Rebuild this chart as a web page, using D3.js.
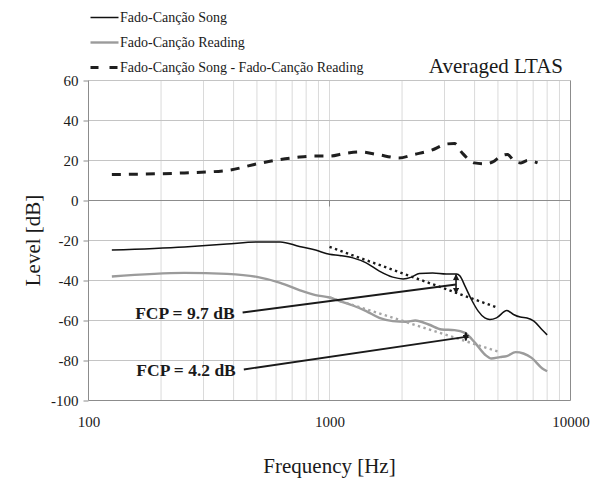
<!DOCTYPE html>
<html>
<head>
<meta charset="utf-8">
<script src="https://cdn.jsdelivr.net/npm/d3@7"></script>
<style>
    body { margin: 0; background: #fff; }
    #chart-area { width: 591px; height: 482px; }
    text { font-family: "Liberation Serif", "Times New Roman", serif; fill: #1a1a1a; }
</style>
</head>
<body>
<div id="chart-area"></div>
<script>
// averaged LTAS chart: song vs reading, plus difference curve

// series values (Hz / dB)
const songFreq = [125, 250, 375, 500, 625, 750, 875, 1000, 1100, 1250, 1420, 1610, 1830, 2020, 2190, 2360, 2680, 3050, 3370, 3480, 3650, 3880, 4140, 4410, 4630, 4930, 5440, 5800, 6190, 6600, 7050, 7640, 8000];
const songDb   = [-24.8, -23.2, -21.8, -20.7, -20.7, -23, -24.8, -26.9, -27.5, -28.7, -31.2, -35.3, -38.3, -39.2, -38.3, -36.5, -36.2, -36.7, -36.7, -37.8, -42.8, -49.5, -55.3, -58.7, -59.5, -58.7, -55, -57, -58.3, -58.7, -60.3, -64.8, -67.2];

const readFreq = [125, 250, 375, 500, 625, 750, 875, 1000, 1100, 1250, 1420, 1610, 1830, 2080, 2270, 2580, 2920, 3300, 3650, 4020, 4410, 4700, 5100, 5440, 5920, 6380, 6900, 7640, 8000];
const readDb   = [-38, -36.2, -36.7, -38.2, -41.2, -44.8, -47.3, -48.5, -50.3, -52.5, -55.3, -58.7, -60.3, -60.7, -60, -62, -64.5, -64.8, -66.2, -71.2, -77, -79, -78.3, -77.8, -75.8, -76.5, -78.7, -84, -85.4];

const diffFreq = [125, 250, 375, 500, 625, 750, 875, 1000, 1150, 1330, 1580, 1940, 2240, 2630, 3080, 3300, 3540, 3990, 4400, 4760, 5140, 5480, 5840, 6230, 6650, 7300];
const diffDb   = [13, 13.8, 15, 18.3, 20.5, 21.7, 22.2, 22.2, 23.5, 24.3, 23, 21.3, 23, 25, 28.3, 28.5, 24, 18.8, 18.3, 19.3, 22.2, 23, 19.7, 18.8, 20, 18.8];

// dotted trend lines (start / end)
const trendFreq = [1000, 5000];
const songTrendDb = [-23.2, -53.7];
const readTrendDb = [-48.5, -75.5];

// FCP annotations
const fcpLabels = ["FCP = 9.7 dB", "FCP = 4.2 dB"];
const fcpStartFreq = [436, 441];
const fcpStartDb = [-56, -84.5];
const fcpFreq = [3350, 3680];
const fcpTopDb = [-37, -66];
const fcpBottomDb = [-46.5, -70];
const fcpPointDb = [-42, -68.2];

// axes
const yTicks = [-100, -80, -60, -40, -20, 0, 20, 40, 60];
const xTicks = [100, 1000, 10000];
const xGrid = [200, 300, 400, 500, 600, 700, 800, 900, 1000, 2000, 3000, 4000, 5000, 6000, 7000, 8000, 9000];

const legendLabels = ["Fado-Canção Song", "Fado-Canção Reading", "Fado-Canção Song - Fado-Canção Reading"];

class LtasChart {
    constructor(parentElement) {
        this.parentElement = parentElement;
        this.initVis();
    }
    initVis() {
        let vis = this;

        vis.margin = {top: 80.5, right: 20.5, bottom: 81.5, left: 88.5};
        vis.width = 591 - vis.margin.left - vis.margin.right;
        vis.height = 482 - vis.margin.top - vis.margin.bottom;

        vis.root = d3.select("#" + vis.parentElement).append("svg")
            .attr("width", 591)
            .attr("height", 482);

        let defs = vis.root.append("defs");
        defs.append("marker")
            .attr("id", "head")
            .attr("viewBox", "0 0 10 10")
            .attr("refX", 9).attr("refY", 5)
            .attr("markerWidth", 4).attr("markerHeight", 4)
            .attr("markerUnits", "strokeWidth")
            .attr("orient", "auto-start-reverse")
            .append("path")
            .attr("d", "M0,0 L10,5 L0,10 Z")
            .attr("fill", "#1a1a1a");

        vis.svg = vis.root.append("g")
            .attr("transform", "translate(" + vis.margin.left + "," + vis.margin.top + ")");

        vis.x = d3.scaleLog().domain([100, 10000]).range([0, vis.width]);
        vis.y = d3.scaleLinear().domain([-100, 60]).range([vis.height, 0]);

        vis.updateVis();
    }
    updateVis() {
        let vis = this;

        // gridlines
        vis.svg.append("g").selectAll("line")
            .data(xGrid).enter().append("line")
            .attr("x1", d => vis.x(d)).attr("x2", d => vis.x(d))
            .attr("y1", 0).attr("y2", vis.height)
            .attr("stroke", "#dadada").attr("stroke-width", 1);

        vis.svg.append("g").selectAll("line")
            .data(yTicks.filter(d => d > -100)).enter().append("line")
            .attr("x1", 0).attr("x2", vis.width)
            .attr("y1", d => vis.y(d)).attr("y2", d => vis.y(d))
            .attr("stroke", d => d === 0 ? "#8c8c8c" : "#c4c4c4")
            .attr("stroke-width", 1);

        // tick at 1000 on the zero line
        vis.svg.append("line")
            .attr("x1", vis.x(1000)).attr("x2", vis.x(1000))
            .attr("y1", vis.y(0)).attr("y2", vis.y(0) + 6)
            .attr("stroke", "#8c8c8c");

        // frame: left, bottom, right
        vis.svg.append("path")
            .attr("d", "M0,0 V" + vis.height + " H" + vis.width + " V0")
            .attr("fill", "none")
            .attr("stroke", "#8c8c8c");

        // axes (plain hyphen for negatives, as in the original)
        let yAxis = d3.axisLeft(vis.y).tickValues(yTicks).tickFormat(d => String(d)).tickSize(5).tickPadding(5);
        let gy = vis.svg.append("g").call(yAxis);
        gy.select(".domain").remove();
        gy.selectAll(".tick line").attr("stroke", "#8c8c8c");
        gy.selectAll(".tick text")
            .style("font-family", "Liberation Serif")
            .style("font-size", "15px")
            .attr("fill", "#1a1a1a");

        let xAxis = d3.axisBottom(vis.x).tickValues(xTicks).tickFormat(d3.format("d")).tickSize(0).tickPadding(16);
        let gx = vis.svg.append("g")
            .attr("transform", "translate(0," + vis.height + ")")
            .call(xAxis);
        gx.select(".domain").remove();
        gx.selectAll(".tick text")
            .style("font-family", "Liberation Serif")
            .style("font-size", "15px")
            .attr("fill", "#1a1a1a");

        // curves
        let line = d3.line()
            .x(d => vis.x(d[0]))
            .y(d => vis.y(d[1]))
            .curve(d3.curveMonotoneX);

        let straight = d3.line()
            .x(d => vis.x(d[0]))
            .y(d => vis.y(d[1]));

        vis.svg.append("path")
            .attr("d", line(d3.zip(readFreq, readDb)))
            .attr("fill", "none").attr("stroke", "#9b9b9b").attr("stroke-width", 2.4);

        vis.svg.append("path")
            .attr("d", straight(d3.zip(trendFreq, readTrendDb)))
            .attr("fill", "none").attr("stroke", "#a6a6a6").attr("stroke-width", 2.4)
            .attr("stroke-dasharray", "2.4,3.4");

        vis.svg.append("path")
            .attr("d", line(d3.zip(songFreq, songDb)))
            .attr("fill", "none").attr("stroke", "#111").attr("stroke-width", 1.5);

        vis.svg.append("path")
            .attr("d", straight(d3.zip(trendFreq, songTrendDb)))
            .attr("fill", "none").attr("stroke", "#1a1a1a").attr("stroke-width", 2.4)
            .attr("stroke-dasharray", "2.4,3.4");

        vis.svg.append("path")
            .attr("d", line(d3.zip(diffFreq, diffDb)))
            .attr("fill", "none").attr("stroke", "#1f1f1f").attr("stroke-width", 3)
            .attr("stroke-dasharray", "9,8");

        // FCP annotations
        let ann = vis.svg.append("g").selectAll("g")
            .data(fcpLabels).enter().append("g");

        ann.append("line")
            .attr("x1", (d, i) => vis.x(fcpFreq[i])).attr("x2", (d, i) => vis.x(fcpFreq[i]))
            .attr("y1", (d, i) => vis.y(fcpTopDb[i])).attr("y2", (d, i) => vis.y(fcpBottomDb[i]))
            .attr("stroke", "#1a1a1a").attr("stroke-width", 1.6)
            .attr("marker-start", "url(#head)").attr("marker-end", "url(#head)");

        ann.append("line")
            .attr("x1", (d, i) => vis.x(fcpStartFreq[i])).attr("y1", (d, i) => vis.y(fcpStartDb[i]))
            .attr("x2", (d, i) => vis.x(fcpFreq[i])).attr("y2", (d, i) => vis.y(fcpPointDb[i]))
            .attr("stroke", "#1a1a1a").attr("stroke-width", 1.8);

        ann.append("text")
            .attr("x", (d, i) => vis.x(fcpStartFreq[i]) - 8)
            .attr("y", (d, i) => vis.y(fcpStartDb[i]) + 6.5)
            .attr("text-anchor", "end")
            .style("font-size", "17.5px")
            .style("font-weight", "bold")
            .text(d => d);

        // titles
        vis.root.append("text")
            .attr("x", 563).attr("y", 73)
            .attr("text-anchor", "end")
            .style("font-size", "21px")
            .text("Averaged LTAS");

        vis.root.append("text")
            .attr("transform", "translate(40," + (vis.margin.top + vis.height / 2) + ") rotate(-90)")
            .attr("text-anchor", "middle")
            .style("font-size", "21px")
            .text("Level [dB]");

        vis.root.append("text")
            .attr("x", vis.margin.left + vis.width / 2).attr("y", 473)
            .attr("text-anchor", "middle")
            .style("font-size", "21px")
            .text("Frequency [Hz]");

        // legend
        let legendStroke = ["#111", "#9b9b9b", "#1f1f1f"];
        let legendWidth = [1.5, 2.4, 3];
        let legendDash = [null, null, "8,11"];
        let leg = vis.root.append("g").selectAll("g")
            .data(legendLabels).enter().append("g")
            .attr("transform", (d, i) => "translate(90.5," + (17.5 + i * 25) + ")");

        leg.append("line")
            .attr("x1", 0).attr("x2", 28)
            .attr("stroke", (d, i) => legendStroke[i])
            .attr("stroke-width", (d, i) => legendWidth[i])
            .attr("stroke-dasharray", (d, i) => legendDash[i]);

        leg.append("text")
            .attr("x", 29.5).attr("dy", "0.35em")
            .style("font-size", "14px")
            .text(d => d);
    }
}

new LtasChart("chart-area");
</script>
</body>
</html>
